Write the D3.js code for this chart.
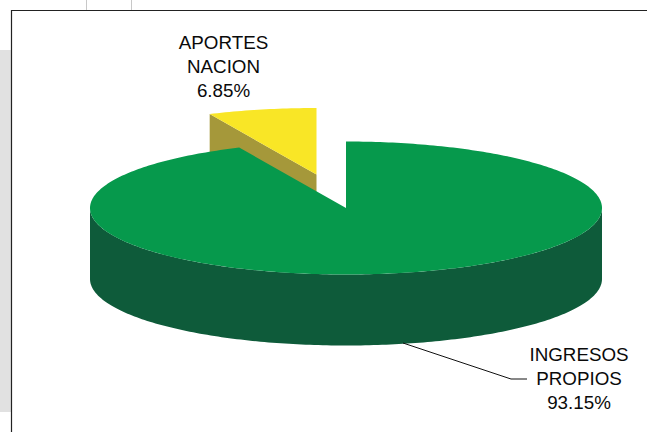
<!DOCTYPE html>
<html>
<head>
<meta charset="utf-8">
<script src="https://cdn.jsdelivr.net/npm/d3@7"></script>
<style>
  html, body { margin: 0; padding: 0; background: #fff; }
  svg { display: block; }
  text { font-family: "Liberation Sans", Arial, sans-serif; font-size: 18.8px; fill: #0a0a0a; text-anchor: middle; }
</style>
</head>
<body>
<svg width="647" height="432"></svg>
<script>
const categories = ["INGRESOS PROPIOS", "APORTES NACION"];
const shares = [93.15, 6.85];
const labelLines = [["INGRESOS", "PROPIOS", "93.15%"], ["APORTES", "NACION", "6.85%"]];

const topColors = ["#06994c", "#f9e626"];
const sideColors = ["#0e5b3a", "#a5983a"];

const svg = d3.select("svg");

// backdrop of the sheet the chart was pasted on
svg.append("rect").attr("x", 0).attr("y", 50).attr("width", 11).attr("height", 362).attr("fill", "#e1e1e1");
svg.selectAll("line.cell")
  .data([86.5, 131.5])
  .enter().append("line")
    .attr("class", "cell")
    .attr("x1", d => d).attr("x2", d => d)
    .attr("y1", 0).attr("y2", 10)
    .attr("stroke", "#c8c8c8");
svg.append("path")
  .attr("d", "M11.5,432V10.5H647")
  .attr("fill", "none")
  .attr("stroke", "#222")
  .attr("stroke-width", 1.2);

// unit circle -> flattened pie
const x = d3.scaleLinear().domain([-1, 1]).range([90, 602]);
const y = d3.scaleLinear().domain([-1, 1]).range([274.5, 141.5]);
const depth = 71;
const explode = [[0, 0], [-29.5, -33.5]];

const slices = d3.pie().sort(null).value(d => d)(shares);

function rim(a) {
  return [Math.sin(a), Math.cos(a)];
}

function samples(a0, a1) {
  const n = Math.max(2, Math.ceil(Math.abs(a1 - a0) * 60));
  return d3.range(n + 1).map(i => a0 + (a1 - a0) * i / n);
}

const line = d3.line().x(d => x(d[0])).y(d => y(d[1]));

function topPath(s) {
  return line([[0, 0]].concat(samples(s.startAngle, s.endAngle).map(rim))) + "Z";
}

const frontWall = d3.area()
  .x(a => x(Math.sin(a)))
  .y0(a => y(Math.cos(a)))
  .y1(a => y(Math.cos(a)) + depth);

function cutWall(s) {
  // wall along the left cut edge of the exploded slice
  const p = rim(s.startAngle);
  return "M" + x(0) + "," + y(0) + "L" + x(p[0]) + "," + y(p[1]) +
    "V" + (y(p[1]) + depth) + "L" + x(0) + "," + (y(0) + depth) + "Z";
}

// small slice goes first, the big one covers its foot
const smallG = svg.append("g").attr("transform", `translate(${explode[1]})`);
smallG.append("path").attr("d", cutWall(slices[1])).attr("fill", sideColors[1]);
smallG.append("path").attr("d", topPath(slices[1])).attr("fill", topColors[1]);

const bigG = svg.append("g");
bigG.append("path")
  .attr("d", frontWall(samples(Math.PI / 2, 3 * Math.PI / 2)))
  .attr("fill", sideColors[0]);
bigG.append("path").attr("d", topPath(slices[0])).attr("fill", topColors[0]);

// leader line
svg.append("path")
  .attr("d", "M403,343L511,379H527")
  .attr("fill", "none")
  .attr("stroke", "#111")
  .attr("stroke-width", 1);

const labelPos = [[579, 361], [223.5, 49]];
const labels = svg.selectAll("text.label")
  .data(labelLines)
  .enter().append("text")
    .attr("class", "label")
    .attr("transform", (d, i) => `translate(${labelPos[i]})`);
labels.selectAll("tspan")
  .data(d => d)
  .enter().append("tspan")
    .attr("x", 0)
    .attr("y", (d, i) => i * 24)
    .text(d => d);
</script>
</body>
</html>
